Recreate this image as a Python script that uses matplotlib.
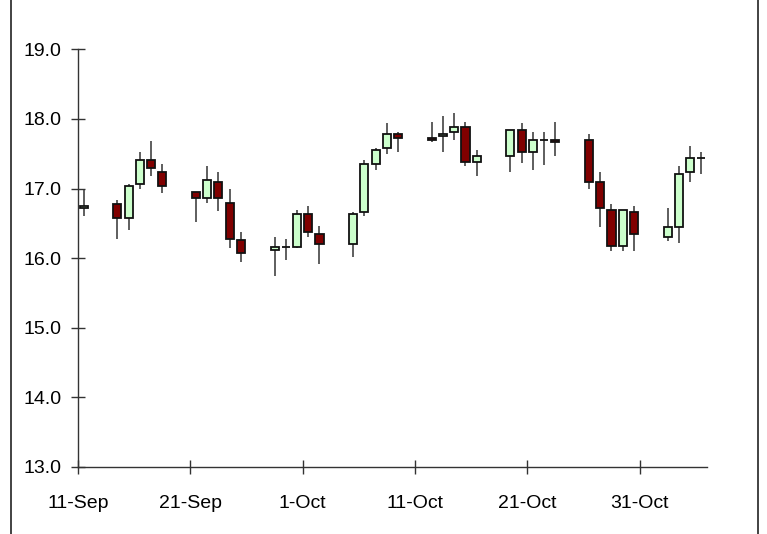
import numpy as np
import matplotlib
matplotlib.use('Agg')
import matplotlib.pyplot as plt
import matplotlib.dates as mdates
import pandas as pd
from matplotlib.lines import Line2D

plt.rcParams['font.family'] = ['Liberation Sans', 'DejaVu Sans']

# dados (dias uteis)
datas = ['2015-09-11',
         '2015-09-14', '2015-09-15', '2015-09-16', '2015-09-17', '2015-09-18',
         '2015-09-21', '2015-09-22', '2015-09-23', '2015-09-24', '2015-09-25',
         '2015-09-28', '2015-09-29', '2015-09-30', '2015-10-01', '2015-10-02',
         '2015-10-05', '2015-10-06', '2015-10-07', '2015-10-08', '2015-10-09',
         '2015-10-12', '2015-10-13', '2015-10-14', '2015-10-15', '2015-10-16',
         '2015-10-19', '2015-10-20', '2015-10-21', '2015-10-22', '2015-10-23',
         '2015-10-26', '2015-10-27', '2015-10-28', '2015-10-29', '2015-10-30',
         '2015-11-02', '2015-11-03', '2015-11-04', '2015-11-05']
abertura = [16.72,
            16.78, 16.58, 17.06, 17.41, 17.24,
            16.95, 16.86, 17.09, 16.80, 16.26,
            16.12, 16.16, 16.16, 16.63, 16.35,
            16.20, 16.66, 17.35, 17.58, 17.78,
            17.73, 17.76, 17.81, 17.88, 17.38,
            17.47, 17.84, 17.53, 17.70, 17.70,
            17.70, 17.10, 16.69, 16.17, 16.66,
            16.31, 16.45, 17.24, 17.44]
maxima = [16.98,
          16.83, 17.07, 17.52, 17.68, 17.35,
          16.95, 17.33, 17.24, 17.00, 16.38,
          16.31, 16.28, 16.69, 16.75, 16.46,
          16.66, 17.41, 17.59, 17.94, 17.81,
          17.96, 18.05, 18.08, 17.96, 17.56,
          17.84, 17.94, 17.81, 17.81, 17.96,
          17.78, 17.24, 16.78, 16.69, 16.75,
          16.72, 17.33, 17.61, 17.53]
minima = [16.60,
          16.28, 16.40, 17.00, 17.18, 16.94,
          16.52, 16.80, 16.68, 16.14, 15.94,
          15.74, 15.97, 16.14, 16.31, 15.91,
          16.02, 16.60, 17.26, 17.49, 17.52,
          17.67, 17.52, 17.70, 17.33, 17.18,
          17.24, 17.37, 17.27, 17.34, 17.47,
          17.00, 16.45, 16.11, 16.11, 16.11,
          16.25, 16.22, 17.09, 17.21]
fechamento = [16.75,
              16.58, 17.04, 17.41, 17.29, 17.04,
              16.86, 17.12, 16.86, 16.28, 16.08,
              16.16, 16.16, 16.63, 16.37, 16.20,
              16.63, 17.35, 17.55, 17.78, 17.73,
              17.70, 17.79, 17.88, 17.38, 17.47,
              17.84, 17.53, 17.70, 17.70, 17.67,
              17.10, 16.72, 16.17, 16.69, 16.35,
              16.45, 17.21, 17.44, 17.44]

rotulos_x = ['11-Sep', '21-Sep', '1-Oct', '11-Oct', '21-Oct', '31-Oct']
datas_x = ['2015-09-11', '2015-09-21', '2015-10-01', '2015-10-11', '2015-10-21', '2015-10-31']
ticks_y = [13.0, 14.0, 15.0, 16.0, 17.0, 18.0, 19.0]

d = pd.DataFrame({'data': pd.to_datetime(datas), 'o': abertura, 'h': maxima,
                  'l': minima, 'c': fechamento})
x = mdates.date2num(d.data) + 0.5

fig = plt.figure(figsize=(7.67, 5.34), dpi=100)
ax = fig.add_axes([0.1017, 0.1255, 0.82, 0.782])

# pavios
ax.vlines(x, d.l, d.h, color='#333333', lw=1.1, zorder=1)

# corpos
cores = np.where(d.c >= d.o, '#ccffcc', '#800000')
base = np.minimum(d.o, d.c)
altura = np.abs(d.c - d.o)
ax.bar(x, altura, bottom=base, width=0.72, color=cores, edgecolor='#111111',
       linewidth=1.3, zorder=2)

ax.set_xlim(mdates.date2num(pd.Timestamp('2015-09-11')),
            mdates.date2num(pd.Timestamp('2015-11-06')))
ax.set_ylim(13.0, 19.0)

ax.set_xticks(mdates.date2num(pd.to_datetime(datas_x)))
ax.set_xticklabels(rotulos_x)
ax.set_yticks(ticks_y)
ax.set_yticklabels(['%.1f' % v for v in ticks_y])

ax.spines['top'].set_visible(False)
ax.spines['right'].set_visible(False)
for s in ['left', 'bottom']:
    ax.spines[s].set_color('#333333')
    ax.spines[s].set_linewidth(1.0)
ax.tick_params(direction='inout', length=10, width=1.0, color='#333333',
               labelsize=14, labelcolor='black')
ax.tick_params(axis='x', pad=15)
ax.tick_params(axis='y', pad=7)

# linhas verticais de borda
fig.add_artist(Line2D([11 / 767, 11 / 767], [0, 1], color='#222222', lw=1.2))
fig.add_artist(Line2D([758 / 767, 758 / 767], [0, 1], color='#222222', lw=1.2))

plt.savefig('out.png', dpi=100)
plt.close()
